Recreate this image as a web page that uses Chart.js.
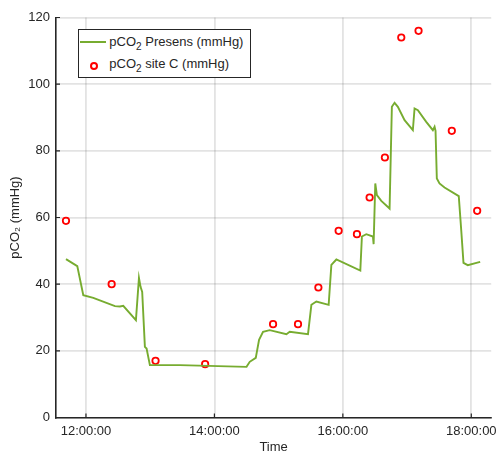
<!DOCTYPE html>
<html>
<head>
<meta charset="utf-8">
<script src="https://cdn.jsdelivr.net/npm/chart.js@4.4.1/dist/chart.umd.min.js"></script>
<style>
  body { margin: 0; background: #fff; }
  #wrap { position: relative; width: 497px; height: 454px; }
  .legend {
    position: absolute; left: 77.5px; top: 29px; width: 171px; height: 47px;
    border: 1.3px solid #262626; background: #fff;
    font: 13px "Liberation Sans", Arial, sans-serif; color: #262626;
  }
  .legend .txt { position: absolute; left: 30.8px; line-height: 13px; white-space: nowrap; }
  .legend sub { font-size: 10px; vertical-align: -4px; line-height: 0; }
  .legend .ln { position: absolute; left: 1.5px; top: 11px; width: 26px; height: 2px; background: #77AC30; }
  .legend .mk { position: absolute; left: 11px; top: 32px; width: 4px; height: 4px; border: 2px solid #ff0000; border-radius: 50%; }
</style>
</head>
<body>
<div id="wrap">
  <canvas id="c" width="497" height="454"></canvas>
  <div class="legend">
    <div class="ln"></div>
    <div class="txt" style="top:4.7px">pCO<sub>2</sub> Presens (mmHg)</div>
    <div class="mk"></div>
    <div class="txt" style="top:26.8px">pCO<sub>2</sub> site C (mmHg)</div>
  </div>
</div>
<script>
// Presens sensor trace
const presensTimes = ['11:41:20','11:51:53','11:57:30','12:06:50','12:27:05','12:31:45','12:34:50','12:46:40',
  '12:49:30','12:51:00','12:52:32','12:55:03','12:56:38','12:59:43','13:27:43','14:30:00','14:33:00','14:38:38',
  '14:41:43','14:45:26','14:51:41','15:07:17','15:10:22','15:27:26','15:30:36','15:35:16','15:46:44','15:49:16',
  '15:53:56','16:16:19','16:17:48','16:21:55','16:28:05','16:28:45','16:30:18','16:31:48','16:35:55','16:43:40',
  '16:45:48','16:48:20','16:51:24','16:57:40','17:05:24','17:07:00','17:10:06','17:17:54','17:24:06','17:25:42',
  '17:26:36','17:27:48','17:30:18','17:35:00','17:48:18','17:50:36','17:52:42','17:56:42','18:08:18'];
const presensValues = [47.5,45.4,36.7,35.9,33.4,33.3,33.5,29.2,
  41.9,39.2,37.7,21.2,20.7,15.7,15.7,15.2,16.7,17.9,
  23.3,25.7,26.2,25.0,25.7,25.0,33.8,34.8,33.8,45.8,
  47.4,44.1,54.3,55.0,54.3,52.0,70.2,66.7,65.0,62.7,
  93.2,94.4,93.2,89.2,86.2,92.7,92.2,88.7,86.2,87.2,
  86.0,71.7,70.2,69.0,66.4,56.2,46.4,45.7,46.7];

// site C samples
const siteTimes = ['11:41:20','12:24:00','13:05:00','13:51:20','14:54:48','15:18:06','15:37:08','15:56:04',
  '16:13:10','16:25:00','16:39:17','16:54:35','17:10:43','17:41:48','18:05:30'];
const siteValues = [59,40,17,16,28,28,39,56,55,66,78,114,116,86,62];

const xTickLabels = ['12:00:00','14:00:00','16:00:00','18:00:00'];
const xRange = ['11:32:00','18:18:36'];

function toHours(s) {
  const p = s.split(':').map(Number);
  return p[0] + p[1] / 60 + (p[2] || 0) / 3600;
}

const txt = '#262626';
const gridCol = 'rgba(38,38,38,0.13)';
Chart.defaults.font.family = '"Liberation Sans", Arial, sans-serif';
Chart.defaults.font.size = 13;
Chart.defaults.color = txt;

// MATLAB style ticks pointing into the axes
const innerTicks = {
  id: 'innerTicks',
  afterDatasetsDraw(chart) {
    const {ctx, chartArea, scales} = chart;
    ctx.save();
    ctx.strokeStyle = txt;
    ctx.lineWidth = 1.2;
    ctx.beginPath();
    scales.x.ticks.forEach(t => {
      const px = scales.x.getPixelForValue(t.value);
      ctx.moveTo(px, chartArea.bottom);
      ctx.lineTo(px, chartArea.bottom - 4);
    });
    scales.y.ticks.forEach(t => {
      const py = scales.y.getPixelForValue(t.value);
      ctx.moveTo(chartArea.left, py);
      ctx.lineTo(chartArea.left + 4, py);
    });
    ctx.stroke();
    ctx.restore();
  }
};

new Chart(document.getElementById('c'), {
  type: 'line',
  data: {
    datasets: [{
      label: 'pCO₂ Presens (mmHg)',
      data: presensTimes.map((t, i) => ({x: toHours(t), y: presensValues[i]})),
      borderColor: '#77AC30',
      borderWidth: 1.9,
      pointRadius: 0,
      tension: 0,
    }, {
      label: 'pCO₂ site C (mmHg)',
      data: siteTimes.map((t, i) => ({x: toHours(t), y: siteValues[i]})),
      showLine: false,
      borderColor: '#ff0000',
      backgroundColor: 'rgba(0,0,0,0)',
      pointRadius: 3.2,
      pointBorderWidth: 1.8,
    }]
  },
  options: {
    responsive: false,
    animation: false,
    layout: { padding: { top: 17.5, right: 5.3, left: 0, bottom: 0 } },
    plugins: {
      legend: { display: false },
      tooltip: { enabled: false }
    },
    scales: {
      x: {
        type: 'linear',
        min: toHours(xRange[0]),
        max: toHours(xRange[1]),
        afterBuildTicks: (axis) => {
          axis.ticks = xTickLabels.map(l => ({value: toHours(l)}));
        },
        afterFit: (axis) => {
          axis.height = 36.5;
          axis.paddingLeft = 0;
          axis.paddingRight = 0;
        },
        ticks: {
          padding: 6,
          maxRotation: 0,
          callback: (v) => xTickLabels.find(l => Math.abs(toHours(l) - v) < 1e-6) || ''
        },
        grid: { color: gridCol, lineWidth: 1.8, drawTicks: false },
        border: { color: txt, width: 1.6 },
        title: { display: true, text: 'Time', font: { size: 13, lineHeight: 1 }, padding: { top: 0, bottom: 0 } }
      },
      y: {
        min: 0,
        max: 120,
        afterFit: (axis) => { axis.width = 56; },
        ticks: { stepSize: 20, padding: 6 },
        grid: { color: gridCol, lineWidth: 1.8, drawTicks: false },
        border: { color: txt, width: 1.6 },
        title: { display: true, text: 'pCO₂ (mmHg)', font: { size: 13, lineHeight: 1.2 }, padding: { top: 8, bottom: 0 } }
      }
    }
  },
  plugins: [innerTicks]
});
</script>
</body>
</html>
